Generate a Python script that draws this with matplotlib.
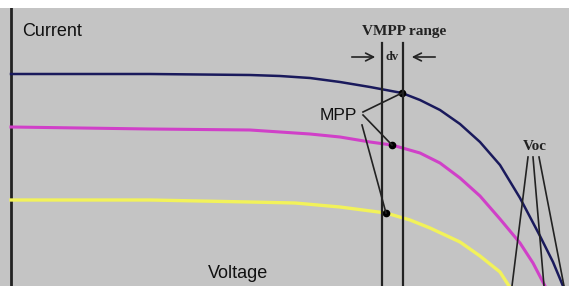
import matplotlib.pyplot as plt

# I-V curves (voltage, current in arbitrary units)
v_high = [0, 139, 239, 269, 299, 329, 359, 391, 409, 429, 449, 469, 489, 509, 529, 542, 552]
i_high = [212, 212, 211, 210, 208, 204, 199, 193, 186, 176, 162, 144, 121, 88, 50, 24, 0]

v_mid = [0, 139, 239, 269, 299, 329, 359, 381, 409, 429, 449, 469, 489, 509, 522, 534]
i_mid = [159, 157, 156, 154, 152, 149, 144, 141, 133, 123, 108, 90, 67, 43, 23, 0]

v_low = [0, 139, 239, 284, 329, 375, 399, 419, 434, 449, 469, 489, 498]
i_low = [86, 86, 84, 83, 79, 73, 66, 58, 51, 44, 30, 14, 0]

# maximum power points
mpp_v = [391, 381, 375]
mpp_i = [193, 141, 73]

# VMPP range bounds and open-circuit voltages
vmpp_lo, vmpp_hi = 371, 392
voc = [501, 533, 553]

bg = "#c4c4c4"
fig = plt.figure(figsize=(5.69, 2.86), dpi=100)
ax = fig.add_axes([0, 0, 1, 278 / 286])
ax.set_facecolor(bg)
ax.set_xlim(-11, 558)
ax.set_ylim(0, 278)
for s in ax.spines.values():
    s.set_visible(False)
ax.set_xticks([])
ax.set_yticks([])

ax.axvline(0, color="#222222", lw=2)

ax.plot(v_high, i_high, color="#1a1a5c", lw=1.8)
ax.plot(v_mid, i_mid, color="#d040c8", lw=2.2)
ax.plot(v_low, i_low, color="#f2f25a", lw=2.4)

ax.plot(mpp_v, mpp_i, "o", color="black", ms=4.5)

# VMPP range markers
for v in (vmpp_lo, vmpp_hi):
    ax.plot([v, v], [0, 243], color="#222222", lw=1.6)
ax.annotate("", xy=(vmpp_lo - 4, 229), xytext=(vmpp_lo - 33, 229),
            arrowprops=dict(arrowstyle="->", color="#222222", lw=1.2, mutation_scale=14))
ax.annotate("", xy=(vmpp_hi + 6, 229), xytext=(vmpp_hi + 35, 229),
            arrowprops=dict(arrowstyle="->", color="#222222", lw=1.2, mutation_scale=14))
ax.text(393, 255, "VMPP range", fontsize=11, fontweight="bold", family="Liberation Serif",
        ha="center", va="center", color="#222222")
ax.text((vmpp_lo + vmpp_hi) / 2, 229, "dv", fontsize=9, fontweight="bold", family="Liberation Serif",
        ha="center", va="center", color="#222222")

# MPP label with leader lines
ax.text(327, 171, "MPP", fontsize=12.5, family="Liberation Sans", ha="center", va="center",
        color="#111111")
ax.plot([352, mpp_v[0]], [174, mpp_i[0]], color="#222222", lw=1.2)
ax.plot([352, mpp_v[1]], [171, mpp_i[1]], color="#222222", lw=1.2)
ax.plot([351, mpp_v[2]], [161, mpp_i[2]], color="#222222", lw=1.2)

# Voc label with leader lines
ax.text(524, 140, "Voc", fontsize=11, fontweight="bold", family="Liberation Serif",
        ha="center", va="center", color="#222222")
for v, x0 in zip(voc, (517, 522, 528)):
    ax.plot([x0, v], [129, 0], color="#222222", lw=1.2)

ax.text(11, 254, "Current", fontsize=13, family="Liberation Sans", ha="left", va="center",
        color="#111111")
ax.text(197, 12, "Voltage", fontsize=13, family="Liberation Sans", ha="left", va="center",
        color="#111111")

fig.savefig("out.png", dpi=100, facecolor="white")
